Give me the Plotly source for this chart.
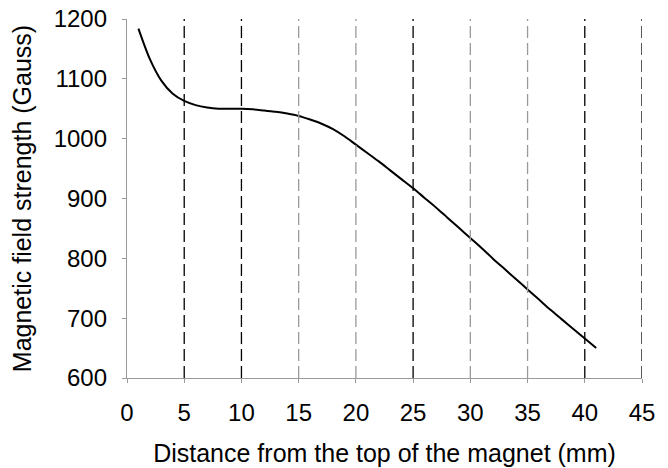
import plotly.graph_objects as go

# Field strength measured along the magnet's axis, one reading per millimetre
distance_mm = list(range(1, 42))
field_gauss = [1184, 1133, 1097, 1075, 1063, 1056, 1052, 1050, 1050, 1050,
               1049, 1047, 1045, 1042, 1038, 1032, 1025, 1016, 1004, 990,
               976, 962, 947, 932, 917, 901, 885, 868, 851, 834,
               817, 799, 782, 765, 748, 731, 714, 698, 682, 666, 650]

x_ticks = [0, 5, 10, 15, 20, 25, 30, 35, 40, 45]
y_ticks = [600, 700, 800, 900, 1000, 1100, 1200]

# Vertical dashed guides and their shades
guide_x = [5, 10, 15, 20, 25, 30, 35, 40, 45]
guide_color = ["#000000", "#000000", "#9a9a9a", "#9a9a9a", "#000000",
               "#9a9a9a", "#9a9a9a", "#000000", "#000000"]

FONT = "Liberation Sans, Arial, sans-serif"

fig = go.Figure()
fig.add_trace(go.Scatter(
    x=distance_mm, y=field_gauss, mode="lines",
    line=dict(color="black", width=2, shape="spline", smoothing=0.8),
    showlegend=False, hoverinfo="skip",
))

for gx, gc in zip(guide_x, guide_color):
    fig.add_shape(type="line", xref="x", yref="y", x0=gx, x1=gx, y0=600, y1=1200,
                  line=dict(color=gc, width=1.3, dash="12px,5px"), layer="above")

fig.update_layout(
    width=668, height=468,
    margin=dict(l=127, r=26, t=19, b=90),
    paper_bgcolor="white", plot_bgcolor="white",
    font=dict(family=FONT, color="black"),
    xaxis=dict(
        range=[0, 45], tickvals=x_ticks, ticktext=[str(v) for v in x_ticks],
        showgrid=False, zeroline=False, showline=True, linecolor="#9a9a9a",
        linewidth=1.3, ticks="outside", ticklen=4, tickcolor="#9a9a9a",
        ticklabelstandoff=9, automargin=False,
        tickfont=dict(size=24, family=FONT, color="black"),
        title=dict(text="Distance from the top of the magnet (mm)",
                   font=dict(size=25, family=FONT, color="black"), standoff=19),
    ),
    yaxis=dict(
        range=[600, 1200], tickvals=y_ticks, ticktext=[str(v) for v in y_ticks],
        showgrid=False, zeroline=False, showline=True, linecolor="#9a9a9a",
        linewidth=1.3, ticks="outside", ticklen=4, tickcolor="#9a9a9a",
        ticklabelstandoff=10, automargin=False,
        tickfont=dict(size=24, family=FONT, color="black"),
        title=dict(text="Magnetic field strength (Gauss)",
                   font=dict(size=25, family=FONT, color="black"), standoff=14),
    ),
)

fig.write_html("out.html")
